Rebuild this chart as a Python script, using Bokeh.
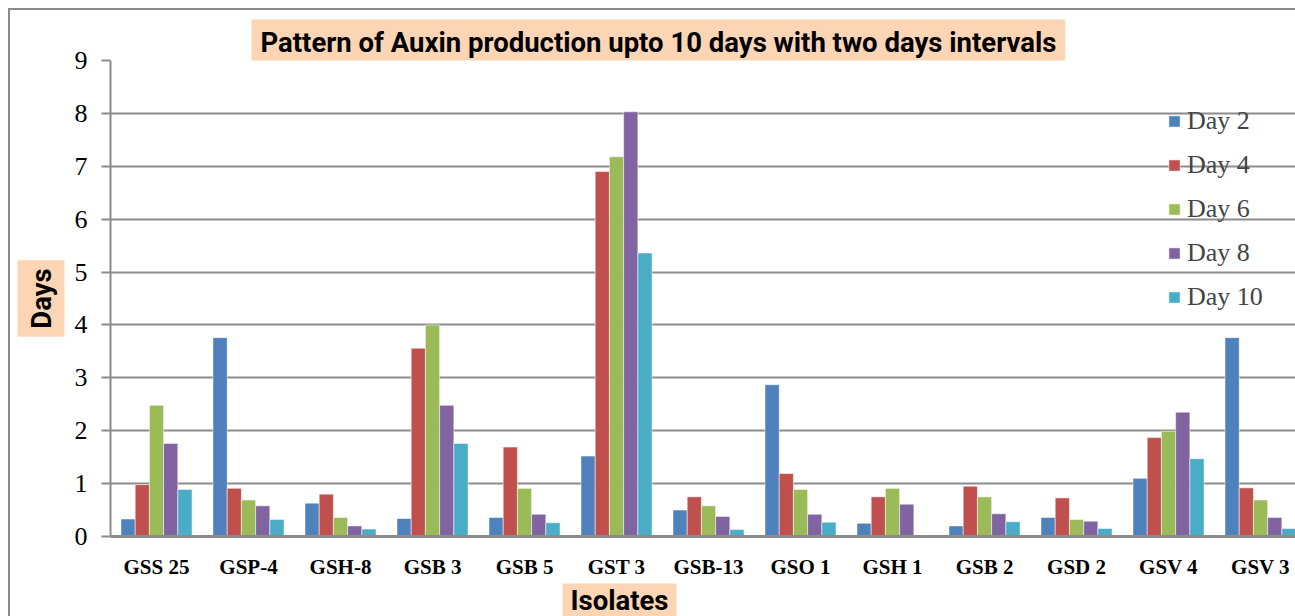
import numpy as np
from bokeh.plotting import figure
from bokeh.models import Range1d, FixedTicker, Title
from bokeh.embed import file_html
from bokeh.resources import INLINE

# ---- data ----
isolates = ["GSS 25", "GSP-4", "GSH-8", "GSB 3", "GSB 5", "GST 3", "GSB-13",
            "GSO 1", "GSH 1", "GSB 2", "GSD 2", "GSV 4", "GSV 3"]
day2 = [0.33, 3.76, 0.63, 0.34, 0.36, 1.52, 0.50, 2.87, 0.25, 0.20, 0.36, 1.10, 3.76]
day4 = [0.98, 0.91, 0.80, 3.56, 1.69, 6.90, 0.75, 1.19, 0.75, 0.95, 0.73, 1.87, 0.92]
day6 = [2.48, 0.69, 0.36, 4.00, 0.91, 7.18, 0.58, 0.89, 0.91, 0.75, 0.32, 1.99, 0.69]
day8 = [1.76, 0.58, 0.20, 2.48, 0.42, 8.03, 0.38, 0.42, 0.61, 0.43, 0.29, 2.35, 0.36]
day10 = [0.89, 0.32, 0.14, 1.76, 0.26, 5.36, 0.13, 0.27, 0.00, 0.28, 0.15, 1.47, 0.15]
series_names = ["Day 2", "Day 4", "Day 6", "Day 8", "Day 10"]
series_colors = ["#4F81BD", "#C0504D", "#9BBB59", "#8064A2", "#4BACC6"]
y_ticks = [0, 1, 2, 3, 4, 5, 6, 7, 8, 9]
title_text = "Pattern of Auxin production upto 10 days with two days intervals"
x_title = "Isolates"
y_title = "Days"

series = [day2, day4, day6, day8, day10]

PEACH = "#FCD5B5"
GRID = "#8C8C8C"
FONT = "Roboto"
TSIZE = "27.5px"

p = figure(width=1295, height=616, output_backend="svg", toolbar_location=None,
           x_range=Range1d(0, 12.88), y_range=Range1d(0, 9),
           min_border_left=110, min_border_right=0, min_border_top=60,
           min_border_bottom=78)
p.outline_line_color = None
p.background_fill_color = "white"
p.border_fill_alpha = 0
p.styles = {
    "background": ("linear-gradient(#8a8a8a, #8a8a8a) 8px 8px / 2px 100% no-repeat, "
                   "linear-gradient(#8a8a8a, #8a8a8a) 8px 8px / 100% 2px no-repeat, white"),
}

centers = np.arange(len(isolates)) + 0.5
bw = 0.1545
for k, (name, vals, col) in enumerate(zip(series_names, series, series_colors)):
    p.vbar(x=centers + (k - 2) * bw, top=vals, bottom=0, width=bw,
           fill_color=col, line_color="white", line_alpha=0.5, line_width=1,
           legend_label=name)

# grid
p.xgrid.visible = False
p.ygrid.ticker = FixedTicker(ticks=y_ticks)
p.ygrid.grid_line_color = GRID
p.ygrid.grid_line_width = 2

# y axis
p.yaxis.ticker = FixedTicker(ticks=y_ticks)
p.yaxis.axis_line_color = GRID
p.yaxis.axis_line_width = 2
p.yaxis.major_tick_line_color = GRID
p.yaxis.major_tick_line_width = 2
p.yaxis.major_tick_out = 9
p.yaxis.major_tick_in = 0
p.yaxis.minor_tick_line_color = None
p.yaxis.major_label_standoff = 14
p.yaxis.major_label_text_font = "Liberation Serif"
p.yaxis.major_label_text_font_size = "26px"
p.yaxis.major_label_text_color = "black"

# x axis
p.xaxis.ticker = FixedTicker(ticks=list(centers))
p.xaxis.major_label_overrides = {float(c): n for c, n in zip(centers, isolates)}
p.xaxis.axis_line_color = GRID
p.xaxis.axis_line_width = 3
p.xaxis.major_tick_line_color = None
p.xaxis.minor_tick_line_color = None
p.xaxis.major_label_standoff = 12
p.xaxis.major_label_text_font = "Liberation Serif"
p.xaxis.major_label_text_font_style = "bold"
p.xaxis.major_label_text_font_size = "21px"
p.xaxis.major_label_text_color = "black"

# legend
lg = p.legend[0]
lg.location = (1057, 224)
lg.border_line_color = None
lg.background_fill_alpha = 0
lg.padding = 0
lg.margin = 0
lg.spacing = 14
lg.glyph_width = 14
lg.glyph_height = 14
lg.label_height = 29
lg.label_standoff = 6
lg.label_text_font = "Liberation Serif"
lg.label_text_font_size = "26px"

# titles with peach boxes
t_top = Title(text=title_text, align="left", offset=141, standoff=0,
              text_font=FONT, text_font_style="bold", text_font_size=TSIZE,
              text_color="black", background_fill_color=PEACH,
              padding=dict(left=9, right=9, top=6, bottom=2))
p.add_layout(t_top, "above")

t_left = Title(text=y_title, align="center", standoff=14,
               text_font=FONT, text_font_style="bold", text_font_size=TSIZE,
               text_color="black", background_fill_color=PEACH,
               padding=dict(left=8, right=8, top=7, bottom=7))
p.add_layout(t_left, "left")

t_bottom = Title(text=x_title, align="left", offset=452, standoff=0,
                 text_font=FONT, text_font_style="bold", text_font_size=TSIZE,
                 text_color="black", background_fill_color=PEACH,
                 padding=dict(left=8, right=8, top=0, bottom=0))
p.add_layout(t_bottom, "below")

open("out.html", "w").write(file_html(p, INLINE))
